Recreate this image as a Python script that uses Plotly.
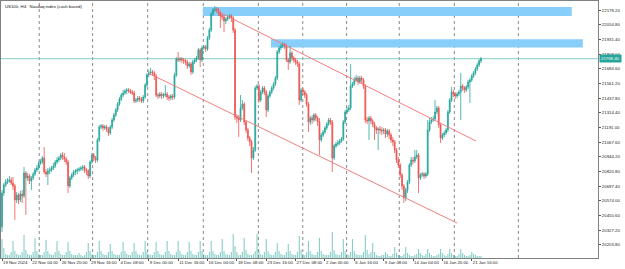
import plotly.graph_objects as go

# ---------------- data (US100 H4) ----------------
opens = [
20353,20639,20706,20731,20740,20748,20723,20698,20580,20622,
20580,20630,20614,20807,20765,20782,20740,20765,20798,20832,
20849,20891,20899,20933,20815,20798,20824,20832,20849,20866,
20899,20916,20933,20958,20941,20924,20899,20698,20765,20790,
20815,20824,20832,20840,20849,20857,20832,20824,20782,20899,
20958,20933,20916,21085,21194,21203,21186,21194,21177,21144,
21194,21253,21295,21337,21387,21429,21463,21480,21497,21505,
21497,21488,21480,21413,21421,21438,21429,21413,21446,21547,
21632,21649,21657,21649,21624,21463,21455,21471,21455,21463,
21471,21446,21438,21455,21446,21632,21766,21758,21766,21758,
21750,21741,21708,21724,21657,21741,21758,21775,21842,21758,
21859,21867,21851,21943,22010,22144,22178,22186,22178,22153,
22128,22119,22086,22102,22119,22128,22111,22010,21278,21270,
21253,21354,21387,21236,21169,21101,21068,20933,21000,21522,
21539,21421,21488,21522,21488,21337,21455,21488,21522,21556,
21606,21825,21859,21876,21892,21876,21758,21741,21817,21775,
21758,21741,21724,21421,21505,21488,21463,21387,21236,21270,
21253,21295,21270,21236,21085,21127,21152,21186,21219,21253,
21236,20933,21034,21051,21059,21077,21093,21236,21320,21337,
21354,21539,21556,21589,21606,21573,21606,21589,21539,21253,
21245,21270,21245,21219,21186,21169,21177,21169,21161,21169,
21135,21161,21127,21085,21068,21000,20916,20874,20790,20698,
20597,20664,20731,20874,20916,20908,20941,20958,20765,20790,
20798,20782,20798,21169,21236,21253,21261,21320,21354,21211,
21101,21127,21144,21169,21320,21421,21488,21471,21455,21471,
21488,21539,21522,21505,21530,21573,21589,21624,21649,21682,
21716,21750]
highs = [
20664,20723,20756,20765,20782,20773,20773,20714,20647,20639,
20656,20664,20857,20824,20807,20798,20782,20815,20849,20874,
20908,20924,20950,21026,20840,20849,20857,20866,20891,20916,
20941,20950,20975,20983,20975,20941,20916,20782,20807,20832,
20840,20849,20857,20866,20874,20874,20849,20840,20916,20975,
20975,20950,21101,21211,21219,21219,21211,21211,21194,21211,
21270,21312,21354,21404,21446,21480,21505,21514,21522,21522,
21514,21505,21497,21438,21455,21455,21446,21463,21564,21649,
21674,21691,21674,21666,21640,21480,21488,21488,21480,21547,
21488,21463,21471,21471,21649,21783,21825,21783,21783,21775,
21766,21758,21741,21741,21758,21775,21792,21859,21859,21876,
21884,21884,21960,22027,22161,22195,22212,22203,22195,22170,
22144,22136,22119,22136,22144,22144,22128,22027,21303,21295,
21463,21421,21404,21253,21186,21119,21085,21026,21539,21556,
21556,21505,21539,21539,21505,21471,21505,21539,21573,21624,
21842,21876,21892,21909,21901,21892,21775,21876,21834,21792,
21775,21758,21741,21522,21522,21505,21480,21404,21286,21295,
21312,21312,21286,21270,21144,21169,21203,21236,21270,21270,
21253,21051,21068,21085,21093,21110,21253,21337,21362,21379,
21724,21573,21615,21632,21624,21624,21624,21606,21556,21278,
21286,21286,21261,21236,21203,21194,21203,21194,21186,21186,
21177,21177,21144,21110,21085,21017,20941,20891,20807,20714,
20681,20748,20891,20941,20941,21000,21000,20975,20807,20815,
20815,20815,21253,21270,21278,21286,21421,21371,21371,21228,
21144,21161,21186,21337,21438,21530,21505,21488,21488,21505,
21649,21556,21539,21547,21589,21606,21640,21666,21699,21733,
21766,21783]
lows = [
20311,20614,20689,20714,20723,20706,20664,20412,20555,20546,
20563,20555,20597,20454,20740,20714,20664,20748,20782,20815,
20832,20874,20882,20798,20773,20706,20798,20815,20832,20849,
20882,20899,20916,20916,20899,20874,20639,20681,20748,20773,
20790,20798,20815,20824,20824,20807,20790,20756,20765,20882,
20908,20891,20899,21068,21177,21161,21169,21152,21119,21127,
21177,21236,21278,21320,21371,21413,21446,21463,21471,21480,
21471,21463,21396,21396,21404,21404,21396,21396,21429,21530,
21615,21632,21624,21589,21446,21429,21438,21429,21438,21446,
21421,21413,21421,21421,21429,21615,21741,21741,21733,21724,
21716,21682,21691,21632,21640,21724,21741,21758,21699,21741,
21842,21825,21834,21926,21993,22128,22161,22153,22128,22027,
22094,21993,22060,22086,22102,22077,21985,21253,21228,21110,
21236,21337,21211,21144,21077,21034,20807,20916,20983,21505,
21396,21404,21471,21463,21278,21320,21438,21471,21505,21539,
21589,21808,21842,21859,21851,21741,21674,21724,21750,21733,
21716,21699,21379,21404,21463,21438,21362,21152,21211,21219,
21236,21245,21203,20958,21068,21110,21135,21169,21203,21211,
20815,20916,21017,21034,21043,21060,21077,21219,21303,21320,
21337,21522,21539,21573,21547,21556,21564,21514,21228,21219,
21085,21219,21194,21085,21135,21000,21135,21127,21135,21101,
21110,21093,21060,21034,20975,20891,20849,20765,20664,20555,
20572,20639,20714,20857,20882,20891,20924,20639,20748,20773,
20756,20765,20782,21152,21219,21236,21245,21303,21186,21060,
21085,21110,21127,21152,21303,21404,21446,21429,21438,21455,
21253,21497,21480,21488,21514,21396,21573,21606,21632,21666,
21699,21733]
closes = [
20639,20706,20731,20740,20748,20723,20698,20580,20622,20580,
20630,20614,20807,20765,20782,20740,20765,20798,20832,20849,
20891,20899,20933,20815,20798,20824,20832,20849,20866,20899,
20916,20933,20958,20941,20924,20899,20698,20765,20790,20815,
20824,20832,20840,20849,20857,20832,20824,20782,20899,20958,
20933,20916,21085,21194,21203,21186,21194,21177,21144,21194,
21253,21295,21337,21387,21429,21463,21480,21497,21505,21497,
21488,21480,21413,21421,21438,21429,21413,21446,21547,21632,
21649,21657,21649,21624,21463,21455,21471,21455,21463,21471,
21446,21438,21455,21446,21632,21766,21758,21766,21758,21750,
21741,21708,21724,21657,21741,21758,21775,21842,21758,21859,
21867,21851,21943,22010,22144,22178,22186,22178,22153,22128,
22119,22086,22102,22119,22128,22111,22010,21278,21270,21253,
21354,21387,21236,21169,21101,21068,20933,21000,21522,21539,
21421,21488,21522,21488,21337,21455,21488,21522,21556,21606,
21825,21859,21876,21892,21876,21758,21741,21817,21775,21758,
21741,21724,21421,21505,21488,21463,21387,21236,21270,21253,
21295,21270,21236,21085,21127,21152,21186,21219,21253,21236,
20933,21034,21051,21059,21077,21093,21236,21320,21337,21354,
21539,21556,21589,21606,21573,21606,21589,21539,21253,21245,
21270,21245,21219,21186,21169,21177,21169,21161,21169,21135,
21161,21127,21085,21068,21000,20916,20874,20790,20698,20597,
20664,20731,20874,20916,20908,20941,20958,20765,20790,20798,
20782,20798,21169,21236,21253,21261,21320,21354,21211,21101,
21127,21144,21169,21320,21421,21488,21471,21455,21471,21488,
21539,21522,21505,21530,21573,21589,21624,21649,21682,21716,
21750,21768.4]
tick_volume = [
19,10,4,3,3,6,17,7,4,3,
3,6,23,8,4,3,3,6,20,7,
4,3,3,6,18,7,4,3,3,6,
17,7,4,3,3,6,16,7,4,3,
3,3,5,3,2,3,6,15,7,4,
3,3,6,17,7,4,3,3,6,14,
7,4,3,3,3,6,16,7,4,3,
3,6,15,7,4,3,3,6,17,7,
4,3,3,6,16,7,4,3,3,6,
17,7,4,3,3,6,17,7,4,3,
3,6,16,7,4,3,3,6,17,7,
4,3,3,6,17,7,4,3,3,6,
19,7,4,3,3,6,24,12,6,3,
3,6,20,8,4,3,3,4,7,24,
8,4,3,6,19,7,4,3,3,6,
15,7,4,3,3,6,14,7,4,3,
3,6,22,8,4,3,6,17,7,4,
3,3,6,20,7,4,3,3,3,6,
26,8,4,3,3,6,19,7,4,3,
6,19,7,4,3,3,3,6,23,8,
4,6,15,6,3,2,2,3,3,6,
4,2,2,4,11,5,3,2,2,4,
11,5,3,2,2,3,4,9,5,3,
2,4,9,5,3,2,2,3,4,9,
5,3,2,4,9,5,3,2,2,4,
9,5,3,2,2,3,6,4,3,2,
2,2]
bar_index = list(range(len(closes)))

# time axis labels (every 16th bar) and weekly separators (bar positions)
tick_bars = [0, 16, 32, 48, 64, 80, 96, 112, 128, 144, 160, 176, 192, 208, 224, 240, 256]
tick_labels = ["19 Nov 2024", "22 Nov 04:00", "26 Nov 20:00", "29 Nov 16:00", "4 Dec 08:00",
               "9 Dec 00:00", "11 Dec 16:00", "16 Dec 00:00", "18 Dec 08:00", "23 Dec 16:00",
               "27 Dec 08:00", "2 Jan 00:00", "6 Jan 16:00", "9 Jan 08:00", "14 Jan 04:00",
               "16 Jan 20:00", "21 Jan 16:00"]
week_starts = [20.3, 49.4, 79.4, 109.7, 139.7, 163.9, 187.8, 216.5, 246.5, 281.4]

price_levels = [22178.20, 22054.80, 21931.40, 21808.00, 21684.60, 21561.20, 21437.80, 21314.40,
                21191.00, 21067.60, 20944.20, 20820.80, 20697.40, 20574.00, 20450.60, 20327.20, 20203.80]
last_price = 21768.40

# drawn objects: zones (bar from, bar to, price low, price high), channel lines ((bar, price), (bar, price))
zones = [(109.5, 310.5, 22128, 22203), (146.6, 316.5, 21863, 21932)]
channel_upper = [(116.1, 22178), (258.3, 21076)]
channel_lower = [(79.6, 21648), (248.0, 20386)]

BULL = "#26A69A"
BEAR = "#EF5350"
FONT = "Liberation Sans"

fig = go.Figure()
fig.add_trace(go.Bar(x=bar_index, y=tick_volume, yaxis="y2", width=0.6,
                     marker=dict(color="rgba(38,166,154,0.55)", line=dict(width=0)),
                     hoverinfo="skip"))
fig.add_trace(go.Candlestick(
    x=bar_index, open=opens, high=highs, low=lows, close=closes,
    increasing=dict(line=dict(color=BULL, width=0.8), fillcolor=BULL),
    decreasing=dict(line=dict(color=BEAR, width=0.8), fillcolor=BEAR),
    whiskerwidth=0))

shapes = []
for w in week_starts:
    shapes.append(dict(type="line", xref="x", yref="paper", x0=w, x1=w, y0=0, y1=1,
                       line=dict(color="#8a8a8a", width=1, dash="dot"), layer="below"))
for (x0, x1, p0, p1) in zones:
    shapes.append(dict(type="rect", xref="x", yref="y", x0=x0, x1=x1, y0=p0, y1=p1,
                       fillcolor="rgb(135,206,250)", line=dict(width=0), layer="below"))
shapes.append(dict(type="line", xref="paper", yref="y", x0=0, x1=1, y0=last_price, y1=last_price,
                   line=dict(color="#7fcdc4", width=1), layer="below"))
for line in (channel_upper, channel_lower):
    shapes.append(dict(type="line", xref="x", yref="y", x0=line[0][0], y0=line[0][1],
                       x1=line[1][0], y1=line[1][1], line=dict(color="#F08080", width=1)))

fig.update_layout(
    width=625, height=269,
    margin=dict(l=1, r=27, t=1, b=11, pad=0),
    paper_bgcolor="white", plot_bgcolor="white",
    showlegend=False,
    shapes=shapes,
    font=dict(family=FONT, size=4.3, color="#222"),
    xaxis=dict(range=[-0.545, 324.8], showgrid=False, zeroline=False,
               showline=True, linecolor="#808080", linewidth=1, mirror=True,
               ticks="outside", ticklen=2, tickcolor="#555",
               tickvals=tick_bars, ticktext=tick_labels, tickangle=0,
               ticklabelposition="outside right",
               tickfont=dict(family=FONT, size=4.3, color="#222"),
               rangeslider=dict(visible=False), fixedrange=True),
    yaxis=dict(range=[20092.0, 22253.9], side="right", showgrid=False, zeroline=False,
               showline=True, linecolor="#808080", linewidth=1, mirror=True,
               ticks="outside", ticklen=2, tickcolor="#555",
               tickvals=price_levels, ticktext=[f"{v:.2f}" for v in price_levels],
               tickfont=dict(family=FONT, size=4.3, color="#222")),
    yaxis2=dict(range=[0, 257], overlaying="y", visible=False),
    annotations=[
        dict(text="US100, H4:  Nasdaq index (cash based)", xref="paper", yref="paper",
             x=0, y=1, xanchor="left", yanchor="top", xshift=2, yshift=-1,
             showarrow=False, font=dict(family=FONT, size=4.3, color="#111")),
        dict(text=f"{last_price:.2f}", xref="paper", yref="y", x=1, y=last_price,
             xanchor="left", yanchor="middle", xshift=1, showarrow=False,
             bgcolor=BULL, borderpad=1, font=dict(family=FONT, size=4.3, color="white")),
    ],
)

fig.write_html("out.html")
